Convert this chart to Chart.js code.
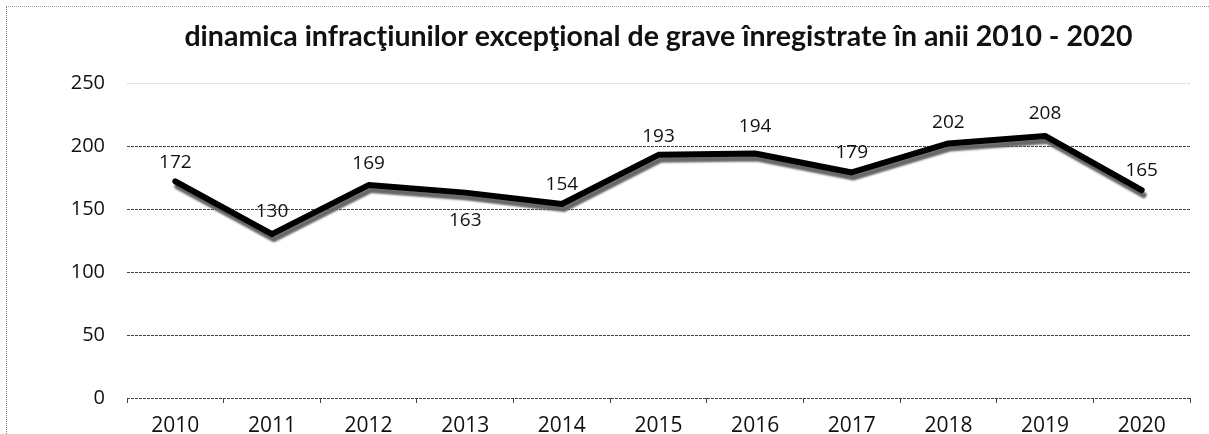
<!DOCTYPE html>
<html>
<head>
<meta charset="utf-8">
<script src="https://cdn.jsdelivr.net/npm/chart.js@4.4.1/dist/chart.umd.min.js"></script>
<style>
  html, body { margin: 0; padding: 0; background: #fff; overflow: hidden; }
  #wrap { position: relative; width: 1209px; height: 452px; }
  #frame { position: absolute; left: 6px; top: 6px; right: -10px; bottom: -10px;
           border-left: 1px dotted #777; border-top: 1px dotted #999; pointer-events: none; }
</style>
</head>
<body>
<div id="wrap">
  <canvas id="c" width="1209" height="452"></canvas>
  <div id="frame"></div>
</div>
<script>
const categories = ['2010','2011','2012','2013','2014','2015','2016','2017','2018','2019','2020'];
const values = [172, 130, 169, 163, 154, 193, 194, 179, 202, 208, 165];
const yTicks = [0, 50, 100, 150, 200, 250];
const titleText = 'dinamica infracţiunilor excepţional de grave înregistrate în anii 2010 - 2020';

// label placement per point: positive = above, negative = below (pixels)
const labelShift = [19, 23, 21, -28, 19, 18, 27, 20, 21, 22, 20];

const shadowPlugin = {
  id: 'lineShadow',
  beforeDatasetDraw(chart) {
    const ctx = chart.ctx;
    ctx.save();
    ctx.shadowColor = 'rgba(95,95,95,0.95)';
    ctx.shadowOffsetX = 2;
    ctx.shadowOffsetY = 5;
    ctx.shadowBlur = 2;
  },
  afterDatasetDraw(chart) {
    chart.ctx.restore();
  }
};

const labelPlugin = {
  id: 'valueLabels',
  afterDatasetsDraw(chart) {
    const ctx = chart.ctx;
    const meta = chart.getDatasetMeta(0);
    ctx.save();
    ctx.font = '19px "Open Sans", "DejaVu Sans", sans-serif';
    ctx.fillStyle = '#111';
    ctx.textAlign = 'center';
    ctx.textBaseline = 'middle';
    meta.data.forEach((pt, i) => {
      ctx.fillText(String(values[i]), pt.x, pt.y - labelShift[i]);
    });
    // title centred over the plot area
    const a = chart.chartArea;
    ctx.font = 'bold 28.5px Lato, "Open Sans", sans-serif';
    ctx.fillText(titleText, (a.left + a.right) / 2, 37);
    ctx.restore();
  }
};

new Chart(document.getElementById('c'), {
  type: 'line',
  data: {
    labels: categories,
    datasets: [{
      data: values,
      borderColor: '#000',
      borderWidth: 6,
      pointRadius: 0,
      tension: 0,
      borderJoinStyle: 'round',
      borderCapStyle: 'round'
    }]
  },
  options: {
    responsive: false,
    animation: false,
    layout: { padding: { left: 0, right: 19, top: 83, bottom: 0 } },
    plugins: {
      legend: { display: false },
      tooltip: { enabled: false },
      title: { display: false }
    },
    scales: {
      x: {
        offset: true,
        border: { display: false },
        grid: { drawOnChartArea: false, drawTicks: true, tickLength: 5, offset: true, color: '#444' },
        ticks: { color: '#111', font: { family: '"Open Sans", sans-serif', size: 21 }, padding: 10 },
        afterFit(s) { s.height = 54; }
      },
      y: {
        min: 0, max: 250,
        afterBuildTicks(s) { s.ticks = yTicks.map(v => ({ value: v })); },
        border: { display: false, dash: [3, 1] },
        grid: {
          drawTicks: false,
          color: (c) => c.tick && c.tick.value === 250 ? 'rgba(0,0,0,0.15)' : '#444',
          lineWidth: 1
        },
        ticks: { color: '#111', font: { family: '"Open Sans", sans-serif', size: 20 }, padding: 22 },
        afterFit(s) { s.width = 127; }
      }
    }
  },
  plugins: [shadowPlugin, labelPlugin]
});
</script>
</body>
</html>
